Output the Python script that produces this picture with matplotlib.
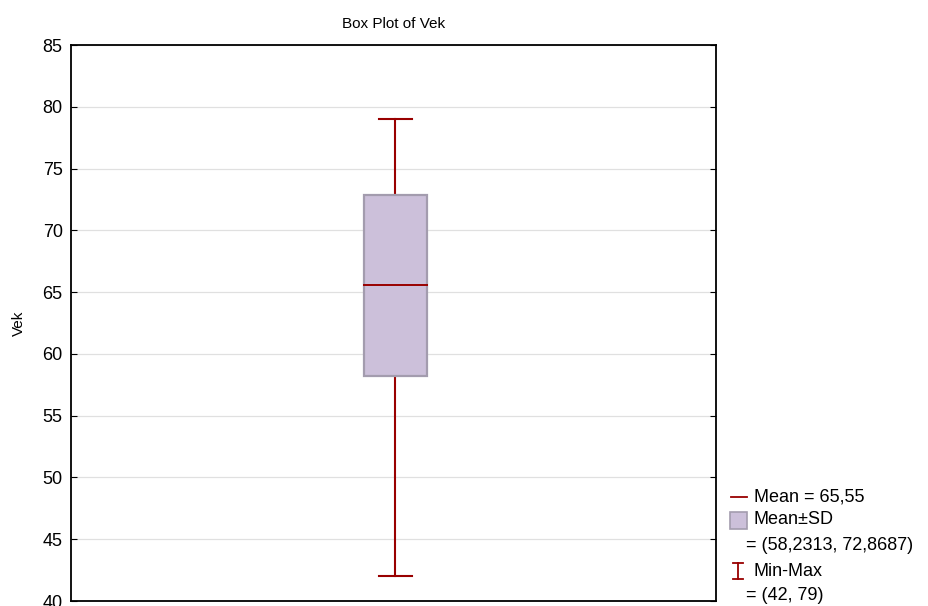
import numpy as np
import matplotlib.pyplot as plt
from matplotlib.patches import Rectangle
from matplotlib.lines import Line2D

plt.rcParams['font.family'] = ['Liberation Sans', 'DejaVu Sans']

# Summary statistics for Vek
var_name = "Vek"
mean_val = 65.55
sd_low, sd_high = 58.2313, 72.8687
min_val, max_val = 42, 79
yticks = [40, 45, 50, 55, 60, 65, 70, 75, 80, 85]

red = "#990000"
box_fill = "#ccc0da"
box_edge = "#a39cae"

fig = plt.figure(figsize=(9.29, 6.06), dpi=100)
ax = fig.add_axes([71 / 929, 5 / 606, 645 / 929, 556 / 606])

x = 0.003
half_box = 0.049
half_cap = 0.025

# whiskers
ax.plot([x, x], [min_val, sd_low], color=red, lw=1.5, zorder=2)
ax.plot([x, x], [sd_high, max_val], color=red, lw=1.5, zorder=2)
ax.plot([x - half_cap, x + half_cap], [min_val] * 2, color=red, lw=1.5, zorder=2)
ax.plot([x - half_cap, x + half_cap], [max_val] * 2, color=red, lw=1.5, zorder=2)
# mean +- SD box
ax.add_patch(Rectangle((x - half_box, sd_low), 2 * half_box, sd_high - sd_low,
                       facecolor=box_fill, edgecolor=box_edge, lw=1.6, zorder=3))
ax.plot([x - half_box, x + half_box], [mean_val] * 2, color=red, lw=1.4, zorder=4)

ax.set_xlim(-0.5, 0.5)
ax.set_ylim(40, 85)
ax.set_yticks(yticks)
ax.set_xticks([])
ax.yaxis.grid(True, color="#e0e0e0", lw=0.9)
ax.set_axisbelow(True)
ax.tick_params(axis="y", direction="in", length=4, labelsize=13, right=True, pad=6)
for s in ax.spines.values():
    s.set_linewidth(1.3)
ax.set_ylabel(var_name, fontsize=11, labelpad=12)
ax.set_title("Box Plot of " + var_name, fontsize=11, pad=12)

# legend drawn at the right side
fs = 13
fig.add_artist(Line2D([731 / 929, 747 / 929], [1 - 497 / 606] * 2, color=red, lw=1.3))
fig.text(754 / 929, 1 - 497 / 606, "Mean = %s" % str(mean_val).replace(".", ","),
         fontsize=fs, va="center")
fig.add_artist(Rectangle((730 / 929, 1 - 529 / 606), 17 / 929, 17 / 606,
                         facecolor=box_fill, edgecolor=box_edge, lw=1.2,
                         transform=fig.transFigure))
fig.text(754 / 929, 1 - 520 / 606, "Mean±SD", fontsize=fs, va="center")
fig.text(746 / 929, 1 - 546 / 606,
         "= (%s, %s)" % (str(sd_low).replace(".", ","), str(sd_high).replace(".", ",")),
         fontsize=fs, va="center")
fig.add_artist(Line2D([738 / 929, 738 / 929], [1 - 563 / 606, 1 - 579 / 606], color=red, lw=1.3))
fig.add_artist(Line2D([733 / 929, 743 / 929], [1 - 563 / 606] * 2, color=red, lw=1.3))
fig.add_artist(Line2D([733 / 929, 743 / 929], [1 - 579 / 606] * 2, color=red, lw=1.3))
fig.text(754 / 929, 1 - 571 / 606, "Min-Max", fontsize=fs, va="center")
fig.text(746 / 929, 1 - 596 / 606, "= (%d, %d)" % (min_val, max_val), fontsize=fs, va="center")

fig.savefig("out.png", dpi=100)
